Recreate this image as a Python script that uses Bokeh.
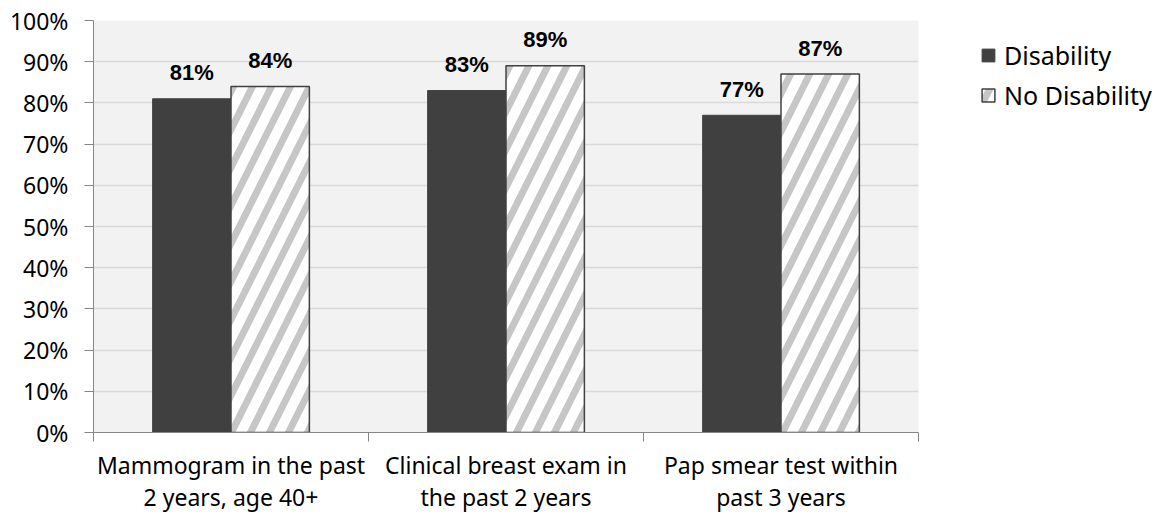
from bokeh.plotting import figure
from bokeh.models import (ColumnDataSource, FixedTicker, PrintfTickFormatter,
                          Legend, LegendItem, Range1d)
from bokeh.core.properties import value
from bokeh.embed import file_html
from bokeh.resources import INLINE

categories = ["Mammogram in the past\n2 years, age 40+",
              "Clinical breast exam in\nthe past 2 years",
              "Pap smear test within\npast 3 years"]
disability = [81, 83, 77]
no_disability = [84, 89, 87]
y_ticks = [0, 10, 20, 30, 40, 50, 60, 70, 80, 90, 100]

FONT = "Noto Sans"
BOLD_FONT = "Liberation Sans"
BAR_W = 0.285
centers = [i + 0.5 for i in range(len(categories))]

src_d = ColumnDataSource(dict(
    x=[c - BAR_W / 2 for c in centers], top=disability,
    label=[f"{v}%" for v in disability]))
src_n = ColumnDataSource(dict(
    x=[c + BAR_W / 2 for c in centers], top=no_disability,
    label=[f"{v}%" for v in no_disability]))

p = figure(frame_width=825, frame_height=412,
           x_range=Range1d(0, 3), y_range=Range1d(0, 100),
           output_backend="svg", toolbar_location=None,
           min_border_left=93, min_border_top=20,
           min_border_bottom=80, min_border_right=247,
           background_fill_color="#f2f2f2", border_fill_color="white",
           outline_line_color=None)

r_d = p.vbar(x="x", top="top", width=BAR_W, source=src_d,
             fill_color="#404040", line_color="#404040", line_width=1)
r_n = p.vbar(x="x", top="top", width=BAR_W, source=src_n,
             fill_color="white", line_color="#404040", line_width=1.5,
             hatch_pattern="/", hatch_color="#c6c6c6",
             hatch_weight=7, hatch_scale=38)

for src in (src_d, src_n):
    p.text(x="x", y="top", text="label", source=src,
           text_align="center", text_baseline="alphabetic",
           y_offset=-26, text_font=value(BOLD_FONT),
           text_font_style="bold", text_font_size="22px",
           text_color="black")

# axes
p.yaxis.ticker = FixedTicker(ticks=y_ticks)
p.yaxis.formatter = PrintfTickFormatter(format="%d%%")
p.yaxis.axis_line_color = "#868686"
p.yaxis.major_tick_line_color = "#868686"
p.yaxis.major_tick_in = 0
p.yaxis.major_tick_out = 9
p.yaxis.minor_tick_line_color = None
p.yaxis.major_label_standoff = 16
p.yaxis.major_label_text_font = FONT
p.yaxis.major_label_text_font_size = "23px"
p.yaxis.major_label_text_color = "black"

p.xaxis.ticker = FixedTicker(ticks=centers, minor_ticks=[0, 1, 2, 3])
p.xaxis.major_label_overrides = {c: lab for c, lab in zip(centers, categories)}
p.xaxis.axis_line_color = "#868686"
p.xaxis.major_tick_line_color = None
p.xaxis.minor_tick_line_color = "#868686"
p.xaxis.minor_tick_in = 0
p.xaxis.minor_tick_out = 9
p.xaxis.major_label_standoff = 7
p.xaxis.major_label_text_font = FONT
p.xaxis.major_label_text_font_size = "23px"
p.xaxis.major_label_text_color = "black"
p.xaxis.major_label_text_line_height = 1.0

p.xgrid.grid_line_color = None
p.ygrid.grid_line_color = "#d9d9d9"
p.ygrid.grid_line_width = 1.5

legend = Legend(items=[LegendItem(label="Disability", renderers=[r_d]),
                       LegendItem(label="No Disability", renderers=[r_n])],
                location=(62, 320), orientation="vertical",
                border_line_color=None, background_fill_alpha=0,
                label_text_font=FONT, label_text_font_size="25px",
                label_text_color="black", glyph_width=16, glyph_height=16,
                label_height=20, spacing=6, padding=0, margin=0,
                label_standoff=8)
p.add_layout(legend, "right")

open("out.html", "w").write(file_html(p, INLINE))
